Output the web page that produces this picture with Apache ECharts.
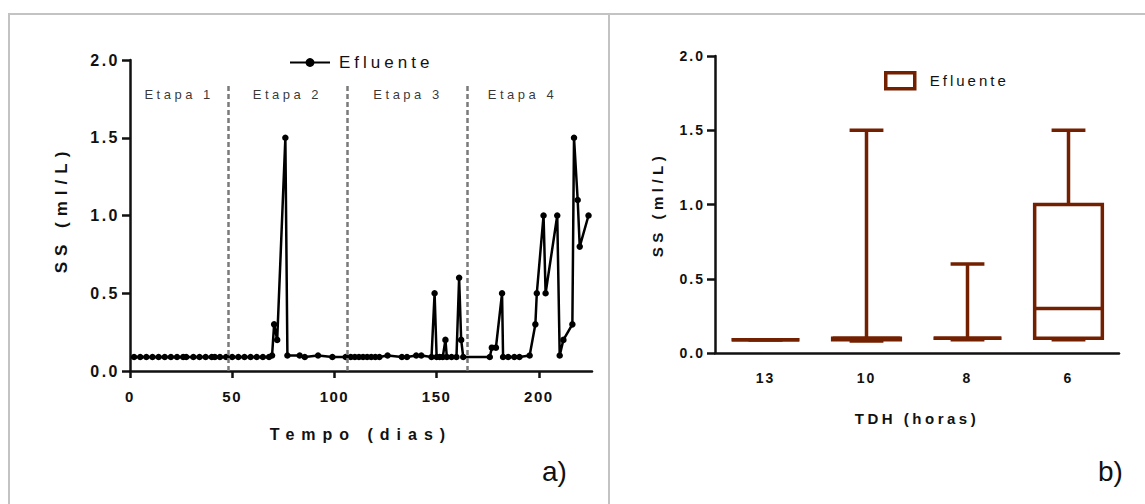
<!DOCTYPE html>
<html>
<head>
<meta charset="utf-8">
<script src="https://cdn.jsdelivr.net/npm/echarts@6/dist/echarts.min.js"></script>
<style>
  html, body { margin: 0; padding: 0; background: #fff; }
  #wrap { position: relative; width: 1145px; height: 504px; overflow: hidden; }
  #frame { position: absolute; left: 8px; top: 13px; width: 1200px; height: 600px;
           border-top: 2px solid #c3c3c3; border-left: 2px solid #c3c3c3; box-sizing: border-box; }
  #divider { position: absolute; left: 608px; top: 13px; width: 2px; height: 600px; background: #c3c3c3; }
  #chartA { position: absolute; left: 0; top: 0; width: 609px; height: 504px; }
  #chartB { position: absolute; left: 610px; top: 0; width: 535px; height: 504px; }
</style>
</head>
<body>
<div id="wrap">
  <div id="frame"></div>
  <div id="divider"></div>
  <div id="chartA"></div>
  <div id="chartB"></div>
</div>
<script>
// ---- Panel a): suspended solids in the effluent over time ----
const days = [
  2, 5, 8, 11, 14, 17, 20, 23, 26, 27.5, 31, 34, 37, 40, 41.5, 44, 47,
  50, 53, 56, 59, 62, 65, 68, 69.5, 70.5, 72, 76, 77, 83, 85.5, 92, 99, 105.5,
  108, 110, 112, 114, 116, 118, 120, 122, 126, 133, 135.5, 140, 142.5, 147.5,
  149, 150, 151.5, 153, 154.3, 155, 157.3, 159.7, 161, 162, 163,
  176, 177, 179, 182, 182.5, 185, 188, 190.5, 195.5, 198.3, 199, 202.3, 203.3,
  209, 210.2, 212, 216.4, 217.2, 219, 220, 224.3
];
const ssEfluente = [
  0.09, 0.09, 0.09, 0.09, 0.09, 0.09, 0.09, 0.09, 0.09, 0.09, 0.09, 0.09, 0.09, 0.09, 0.09, 0.09, 0.09,
  0.09, 0.09, 0.09, 0.09, 0.09, 0.09, 0.09, 0.1, 0.3, 0.2, 1.5, 0.1, 0.1, 0.09, 0.1, 0.09, 0.09,
  0.09, 0.09, 0.09, 0.09, 0.09, 0.09, 0.09, 0.09, 0.1, 0.09, 0.09, 0.1, 0.1, 0.09,
  0.5, 0.09, 0.09, 0.09, 0.2, 0.09, 0.09, 0.09, 0.6, 0.2, 0.09,
  0.09, 0.15, 0.15, 0.5, 0.09, 0.09, 0.09, 0.09, 0.1, 0.3, 0.5, 1.0, 0.5,
  1.0, 0.1, 0.2, 0.3, 1.5, 1.1, 0.8, 1.0
];
const stageBounds = [48, 106.5, 165];
const stageLineTop = 1.85;
const stageNames = ['Etapa 1', 'Etapa 2', 'Etapa 3', 'Etapa 4'];
const stageLabelDays = [24, 77, 136, 192];
const stageLabelLevel = 1.78;
const dayRange = { min: 0, max: 226 };
const dayTicks = [0, 50, 100, 150, 200];
const ssTicks = { min: 0, max: 2, interval: 0.5 };

// ---- Panel b): distribution per hydraulic retention time ----
const tdhCategories = ['13', '10', '8', '6'];
const boxMin    = [0.09, 0.08, 0.09, 0.09];
const boxQ1     = [0.09, 0.09, 0.10, 0.10];
const boxMedian = [0.09, 0.10, 0.10, 0.30];
const boxQ3     = [0.09, 0.10, 0.10, 1.00];
const boxMax    = [0.09, 1.50, 0.60, 1.50];

const FONT = '"Liberation Sans", Arial, sans-serif';
const INK = '#111';
const BOX_COLOR = '#722000';

// Prism-like tracked lettering, applied to the SVG text nodes.
function keepSpacing(chart, table) {
  const dom = chart.getDom();
  const run = () => {
    dom.querySelectorAll('text').forEach(t => {
      const s = table[t.textContent];
      if (s != null && t.getAttribute('letter-spacing') !== String(s)) t.setAttribute('letter-spacing', s);
    });
  };
  new MutationObserver(run).observe(dom, { childList: true, subtree: true, characterData: true });
  chart.on('finished', run);
  run();
}

const axisLineStyle = { color: INK, width: 2.5 };
const tickLabel = { color: INK, fontFamily: FONT, fontWeight: 'bold' };

// ---------- chart a ----------
const chartA = echarts.init(document.getElementById('chartA'), null, { renderer: 'svg' });
chartA.setOption({
  animation: false,
  grid: { left: 130, top: 60, width: 462, height: 311 },
  legend: {
    data: ['Efluente'], left: 289, top: 54, padding: 0, itemWidth: 40, itemHeight: 11,
    textStyle: { fontFamily: FONT, fontSize: 17, color: INK, padding: [0, 0, 0, 4] },
    selectedMode: false
  },
  xAxis: {
    type: 'value', min: dayRange.min, max: dayRange.max,
    name: 'Tempo (dias)', nameLocation: 'middle', nameGap: 55,
    nameTextStyle: { fontFamily: FONT, fontSize: 16, fontWeight: 'bold', color: INK },
    axisLine: { lineStyle: axisLineStyle },
    axisTick: { length: 7, customValues: dayTicks, lineStyle: { width: 2.5, color: INK } },
    axisLabel: Object.assign({ fontSize: 15, margin: 18, customValues: dayTicks }, tickLabel),
    splitLine: { show: false }
  },
  yAxis: {
    type: 'value', min: ssTicks.min, max: ssTicks.max, interval: ssTicks.interval,
    name: 'SS (ml/L)', nameLocation: 'middle', nameGap: 60,
    nameTextStyle: { fontFamily: FONT, fontSize: 17, fontWeight: 'bold', color: INK, padding: [0, 0, 0, 12] },
    axisLine: { show: true, lineStyle: axisLineStyle },
    axisTick: { show: true, length: 8, lineStyle: { width: 2.5, color: INK } },
    axisLabel: Object.assign({ fontSize: 16, margin: 10, formatter: v => v.toFixed(1) }, tickLabel),
    splitLine: { show: false }
  },
  series: [
    {
      name: 'Efluente', type: 'line',
      data: days.map((d, i) => [d, ssEfluente[i]]),
      symbol: 'circle', symbolSize: 6.5,
      lineStyle: { color: '#000', width: 2.5 },
      itemStyle: { color: '#000' },
      silent: true,
      markLine: {
        silent: true, symbol: ['none', 'none'],
        label: { show: false },
        lineStyle: { type: [5, 3], color: '#7a7a7a', width: 2.5 },
        data: stageBounds.map(b => [{ coord: [b, 0] }, { coord: [b, stageLineTop] }])
      },
      z: 3
    },
    {
      name: 'stages', type: 'scatter', symbolSize: 0, silent: true,
      data: stageLabelDays.map((d, i) => ({ value: [d, stageLabelLevel], name: stageNames[i] })),
      label: {
        show: true, position: 'inside', formatter: p => p.name,
        fontFamily: FONT, fontSize: 13, color: '#000'
      }
    }
  ],
  graphic: [
    { type: 'text', left: 542, top: 457, style: { text: 'a)', font: '28px ' + FONT, fill: INK } }
  ]
});
keepSpacing(chartA, {
  'Efluente': 4, 'Etapa 1': 3.5, 'Etapa 2': 3.5, 'Etapa 3': 3.5, 'Etapa 4': 3.5,
  'Tempo (dias)': 7, 'SS (ml/L)': 6,
  '0.0': 2.5, '0.5': 2.5, '1.0': 2.5, '1.5': 2.5, '2.0': 2.5,
  '0': 1.5, '50': 1.5, '100': 1.5, '150': 1.5, '200': 1.5
});

// ---------- chart b ----------
const chartB = echarts.init(document.getElementById('chartB'), null, { renderer: 'svg' });
chartB.setOption({
  animation: false,
  grid: { left: 105, top: 56, width: 404, height: 297 },
  legend: {
    data: [{ name: 'Efluente', icon: 'rect' }], left: 274, top: 71, padding: 0, itemWidth: 29, itemHeight: 16,
    itemStyle: { color: '#fff', borderColor: BOX_COLOR, borderWidth: 3.5 },
    textStyle: { fontFamily: FONT, fontSize: 15, color: INK, padding: [0, 0, 0, 10] },
    selectedMode: false
  },
  xAxis: {
    type: 'category', data: tdhCategories, boundaryGap: true,
    name: 'TDH (horas)', nameLocation: 'middle', nameGap: 58,
    nameTextStyle: { fontFamily: FONT, fontSize: 15, fontWeight: 'bold', color: INK },
    axisLine: { lineStyle: axisLineStyle },
    axisTick: { alignWithLabel: true, length: 8, lineStyle: { width: 2.5, color: INK } },
    axisLabel: Object.assign({ fontSize: 14, margin: 18 }, tickLabel)
  },
  yAxis: {
    type: 'value', min: ssTicks.min, max: ssTicks.max, interval: ssTicks.interval,
    name: 'SS (ml/L)', nameLocation: 'middle', nameGap: 50,
    nameTextStyle: { fontFamily: FONT, fontSize: 15, fontWeight: 'bold', color: INK },
    axisLine: { show: true, lineStyle: axisLineStyle },
    axisTick: { show: true, length: 8, lineStyle: { width: 2.5, color: INK } },
    axisLabel: Object.assign({ fontSize: 14, margin: 10, formatter: v => v.toFixed(1) }, tickLabel),
    splitLine: { show: false }
  },
  series: [{
    name: 'Efluente', type: 'custom', silent: true,
    itemStyle: { color: '#fff', borderColor: BOX_COLOR },
    encode: { x: 0, y: [1, 2, 3, 4, 5] },
    data: tdhCategories.map((c, i) => [i, boxMin[i], boxQ1[i], boxMedian[i], boxQ3[i], boxMax[i]]),
    renderItem: (params, api) => {
      const i = api.value(0);
      const band = api.size([1, 0])[0];
      const hw = band * 0.335;   // half box width
      const cw = hw / 2;         // half whisker-cap width
      const x = api.coord([i, 0])[0];
      const y = v => api.coord([i, v])[1];
      const yMin = y(api.value(1)), yQ1 = y(api.value(2)), yMed = y(api.value(3)),
            yQ3 = y(api.value(4)), yMax = y(api.value(5));
      const st = { stroke: BOX_COLOR, lineWidth: 3.5, fill: null, lineCap: 'butt', lineJoin: 'miter' };
      const line = (x1, y1, x2, y2) => ({ type: 'line', shape: { x1, y1, x2, y2 }, style: st });
      return {
        type: 'group',
        children: [
          line(x, yQ3, x, yMax),
          line(x, yQ1, x, yMin),
          line(x - cw, yMax, x + cw, yMax),
          line(x - cw, yMin, x + cw, yMin),
          { type: 'rect', shape: { x: x - hw, y: yQ3, width: 2 * hw, height: yQ1 - yQ3 }, style: st },
          line(x - hw, yMed, x + hw, yMed)
        ]
      };
    }
  }],
  graphic: [
    { type: 'text', left: 488, top: 457, style: { text: 'b)', font: '28px ' + FONT, fill: INK } }
  ]
});
keepSpacing(chartB, {
  'Efluente': 3, 'TDH (horas)': 3.5, 'SS (ml/L)': 4.5,
  '0.0': 2, '0.5': 2, '1.0': 2, '1.5': 2, '2.0': 2,
  '13': 2, '10': 2, '8': 2, '6': 2
});
</script>
</body>
</html>
